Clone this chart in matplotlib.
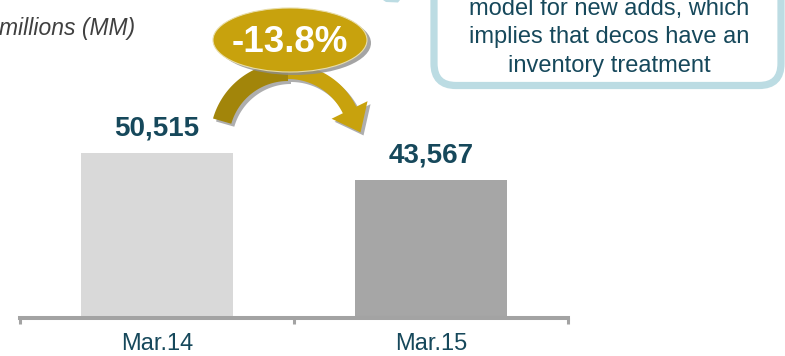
import numpy as np
import matplotlib
matplotlib.use("Agg")
import matplotlib.pyplot as plt
from matplotlib.patches import Ellipse, Polygon, FancyBboxPatch

categories = ["Mar.14", "Mar.15"]
values = [50515, 43567]
value_labels = ["50,515", "43,567"]
change_label = "-13.8%"
unit_label = "millions (MM)"
callout_lines = ["model for new adds, which", "implies that decos have an", "inventory treatment"]

bar_colors = ["#D9D9D9", "#A6A6A6"]
teal = "#16485B"
gold = "#C8A20D"
gold_dark = "#A2850A"
axis_gray = "#A3A3A3"

plt.rcParams['font.family'] = ['Liberation Sans', 'DejaVu Sans']

W, H = 785, 356
fig = plt.figure(figsize=(W / 100, H / 100), dpi=100)

# main axes (pixel layout)
ax_left, ax_right = 20, 568
ax_bottom_px, ax_top_px = 318, 100
ax = fig.add_axes([ax_left / W, (H - ax_bottom_px) / H,
                   (ax_right - ax_left) / W, (ax_bottom_px - ax_top_px) / H])
x = np.arange(len(categories))
ax.bar(x, values, width=0.556, color=bar_colors, zorder=2)
y0 = 7300
ytop = y0 + (values[0] - y0) * (ax_bottom_px - ax_top_px) / (ax_bottom_px - 153)
ax.set_ylim(y0, ytop)
ax.set_xlim(-0.5, len(categories) - 0.5)
for s in ["top", "right", "left"]:
    ax.spines[s].set_visible(False)
ax.spines["bottom"].set_color(axis_gray)
ax.spines["bottom"].set_linewidth(2.9)
ax.set_yticks([])
ax.set_xticks(np.arange(len(categories) + 1) - 0.5)
ax.set_xticklabels([])
ax.tick_params(axis="x", which="major", length=4.5, width=2.2, color=axis_gray, direction="out")
ax.set_xticks(x, minor=True)
ax.set_xticklabels(categories, minor=True)
ax.tick_params(axis="x", which="minor", length=0, pad=11, labelsize=17, labelcolor=teal)
for xi, v, lab in zip(x, values, value_labels):
    ax.annotate(lab, (xi, v), xytext=(0, 11), textcoords="offset pixels",
                ha="center", va="bottom", fontsize=20, fontweight="bold", color=teal)

# overlay in pixel coordinates for annotations
ov = fig.add_axes([0, 0, 1, 1], zorder=5)
ov.set_xlim(0, W)
ov.set_ylim(H, 0)
ov.axis("off")
ov.patch.set_alpha(0)

ov.text(-1, 29, unit_label, fontsize=16.5, style="italic", color="#404040", ha="left", va="center")

# callout box
box = FancyBboxPatch((434, -40), 347, 125.5, boxstyle="round,pad=0,rounding_size=22",
                     fc="white", ec="#BCDCE3", lw=5.2)
ov.add_patch(box)
for i, line in enumerate(callout_lines):
    ov.text(609, 15 + i * 28.5, line, fontsize=17, color=teal, ha="center", va="baseline")
# small tail piece of the callout at the top
ov.add_patch(Polygon([[383, 0], [400, 0], [398, 2.5], [386, 2]], closed=True, fc="#BCDCE3", ec="none"))

# curved arrow
cx, cy = 288, 140
r_out, r_in = 78, 59

def arc_band(a0, a1, ro, ri, dx=0, dy=0, n=60):
    t = np.radians(np.linspace(a0, a1, n))
    outer = np.c_[cx + ro * np.cos(t) + dx, cy - ro * np.sin(t) + dy]
    inner = np.c_[cx + ri * np.cos(t[::-1]) + dx, cy - ri * np.sin(t[::-1]) + dy]
    return np.vstack([outer, inner])

def head(dx=0, dy=0):
    a = np.radians(26)
    rm = (r_out + r_in) / 2
    bx, by = cx + rm * np.cos(a), cy - rm * np.sin(a)
    rad = np.array([np.cos(a), -np.sin(a)])
    tang = np.array([np.sin(a), np.cos(a)])
    p1 = np.array([bx, by]) + rad * 20
    p2 = np.array([bx, by]) - rad * 20
    tip = np.array([bx, by]) + tang * 25
    return np.array([p1, tip, p2]) + [dx, dy]

shadow = "#9A9A9A"
ov.add_patch(Polygon(arc_band(164, 90, r_out, r_in, 3, 3), closed=True, fc=shadow, ec="none", alpha=0.8))
ov.add_patch(Polygon(arc_band(90, 26, r_out - 2, r_in + 2, 3, 3), closed=True, fc=shadow, ec="none", alpha=0.8))
ov.add_patch(Polygon(head(3, 3), closed=True, fc=shadow, ec="none", alpha=0.8))
ov.add_patch(Polygon(arc_band(164, 90, r_out, r_in), closed=True, fc=gold_dark, ec="none"))
ov.add_patch(Polygon(arc_band(90, 25, r_out - 2, r_in + 2), closed=True, fc=gold, ec="none"))
ov.add_patch(Polygon(head(), closed=True, fc=gold, ec="none"))

# ellipse badge
ov.add_patch(Ellipse((294, 43), 154, 64, fc="#8E8E8E", ec="none", alpha=0.8))
ov.add_patch(Ellipse((290, 40), 154, 64, fc=gold, ec="#E8DDA8", lw=0.8))
ov.text(290, 43, change_label, fontsize=26.5, fontweight="bold", color="white", ha="center", va="center")

fig.savefig("out.png", dpi=100)
